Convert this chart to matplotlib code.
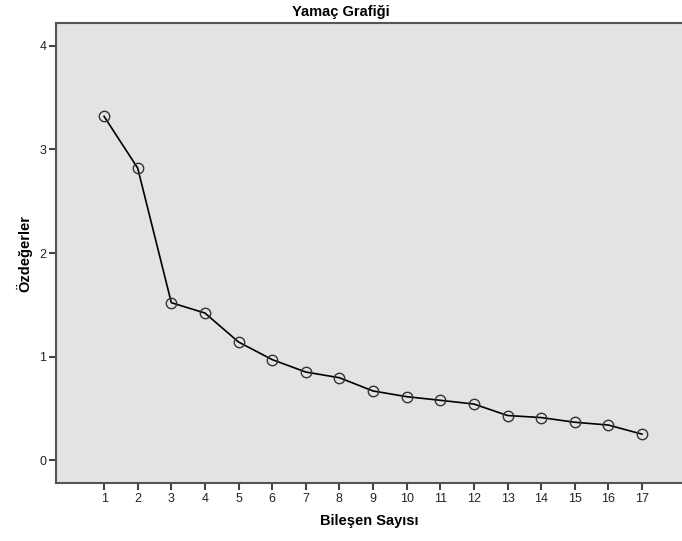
import matplotlib
matplotlib.use("Agg")
import matplotlib.pyplot as plt

plt.rcParams['font.family'] = ['Liberation Sans', 'DejaVu Sans']

# scree plot values
components = list(range(1, 18))
eigenvalues = [3.32, 2.82, 1.52, 1.42, 1.14, 0.97, 0.85, 0.795, 0.667,
               0.612, 0.577, 0.541, 0.43, 0.41, 0.365, 0.338, 0.25]
y_ticks = [0, 1, 2, 3, 4]

fig = plt.figure(figsize=(6.82, 5.41), dpi=100)
ax = fig.add_axes([56/682, 58/541, 1 - 56/682, 460/541])
ax.set_facecolor('#e3e3e3')

ax.plot(components, eigenvalues, color='black', lw=1.2, zorder=2)
ax.plot(components, eigenvalues, 'o', ms=7.5, mfc='none', mec='#333333',
        mew=1.0, zorder=3)

ax.set_xlim(-0.43, 18.19)
ax.set_ylim(-0.222, 4.222)
ax.set_xticks(components)
ax.set_yticks(y_ticks)
ax.tick_params(direction='out', length=5, width=1.5, color='#444444',
               labelsize=9, labelcolor='#222222', pad=2)

for side in ['left', 'top', 'bottom']:
    ax.spines[side].set_color('#555555')
    ax.spines[side].set_linewidth(1.5)
ax.spines['right'].set_visible(False)

fig.text(0.5, 1 - 12/541, 'Yamaç Grafiği', ha='center', va='center',
         fontsize=10.5, fontweight='bold')
ax.set_xlabel('Bileşen Sayısı', fontsize=10.5, fontweight='bold', labelpad=7)
ax.set_ylabel('Özdeğerler', fontsize=10.5, fontweight='bold', labelpad=5)

fig.savefig('out.png', dpi=100)
